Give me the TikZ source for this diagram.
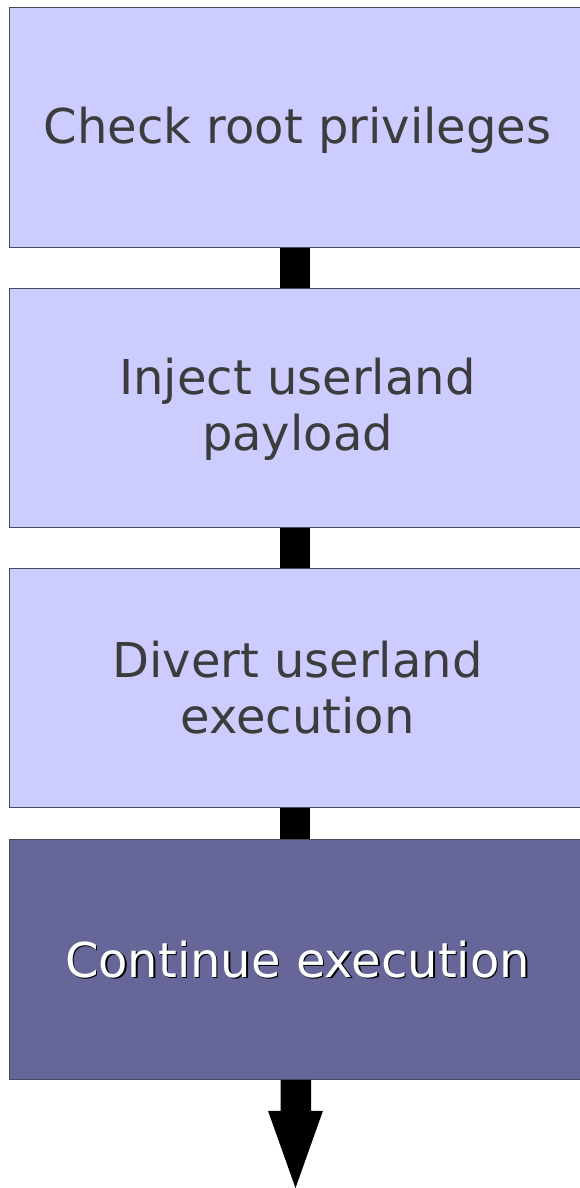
\documentclass[tikz,border=0pt]{standalone}
\usepackage{fontspec}
\setmainfont{DejaVu Sans}
\definecolor{lightbox}{HTML}{CCCCFF}
\definecolor{darkbox}{HTML}{666699}
\definecolor{boxline}{HTML}{4A4A5A}
\definecolor{txt}{HTML}{3C3C3C}
\tikzset{
  stepbox/.style={draw=boxline, line width=1pt, fill=lightbox, minimum width=576pt, minimum height=239.5pt, inner sep=0pt},
  endbox/.style={stepbox, fill=darkbox},
  steptext/.style={inner sep=0pt, align=center, text=txt, font=\fontsize{48}{56}\selectfont},
  conn/.style={line width=30pt, draw=black}
}
\begin{document}
\begin{tikzpicture}[x=1pt,y=-1pt]
\useasboundingbox (0,0) rectangle (579,1188);
\node[stepbox] (b1) at (297.5,127.75) {};
\node[stepbox] (b2) at (297.5,407.75) {};
\node[stepbox] (b3) at (297.5,687.75) {};
\node[endbox] (b4) at (297.5,959.5) {};
\node[steptext] (t1) at ([yshift=-2.5pt]b1.center) {Check root privileges};
\node[steptext] (t2) at ([yshift=-2pt]b2.center) {Inject userland\\payload};
\node[steptext] (t3) at ([yshift=0pt]b3.center) {Divert userland\\execution};
\node[steptext, text=black] (s4) at ([xshift=1.5pt,yshift=-1.5pt]b4.center) {Continue execution};
\node[steptext, text=white] (t4) at ([yshift=0pt]b4.center) {Continue execution};
\draw[conn] ([xshift=-2.5pt]b1.south) -- ([xshift=-2.5pt]b2.north);
\draw[conn] ([xshift=-2.5pt]b2.south) -- ([xshift=-2.5pt]b3.north);
\draw[conn] ([xshift=-2.5pt]b3.south) -- ([xshift=-2.5pt]b4.north);
\coordinate (tip) at (295.5,1188);
\fill[black] ([xshift=-17pt]b4.south) -- ([xshift=-17pt,yshift=-31pt]b4.south) -- ([xshift=-29.5pt,yshift=-31pt]b4.south) -- (tip) -- ([xshift=25.5pt,yshift=-31pt]b4.south) -- ([xshift=13.5pt,yshift=-31pt]b4.south) -- ([xshift=13.5pt]b4.south) -- cycle;
\end{tikzpicture}
\end{document}
